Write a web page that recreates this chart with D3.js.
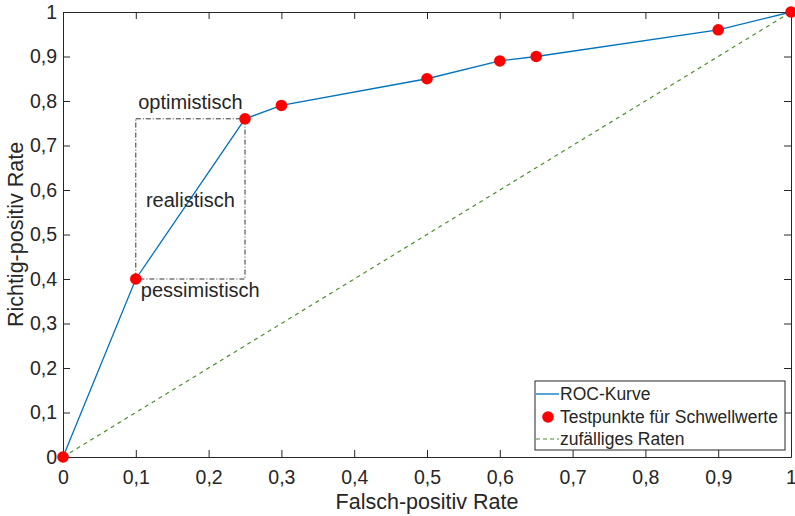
<!DOCTYPE html>
<meta charset="utf-8">
<style>
    body { margin: 0; background: #fff; }
    text { font-family: "Liberation Sans", Arial, sans-serif; fill: #262626; }
    .axis text { font-size: 19.5px; }
    .label { font-size: 21.5px; }
</style>
<body>
<div id="chart"></div>
<script src="https://cdn.jsdelivr.net/npm/d3@7"></script>
<script>
    // ROC points
    var fpr = [0, 0.1, 0.25, 0.3, 0.5, 0.6, 0.65, 0.9, 1];
    var tpr = [0, 0.4, 0.76, 0.79, 0.85, 0.89, 0.9, 0.96, 1];
    var randomLine = [0, 1];
    var tickValues = [0, 0.1, 0.2, 0.3, 0.4, 0.5, 0.6, 0.7, 0.8, 0.9, 1];
    var boxX = [0.1, 0.25], boxY = [0.4, 0.76];
    var legendLabels = ["ROC-Kurve", "Testpunkte für Schwellwerte", "zufälliges Raten"];

    var W = 795, H = 516;
    var margin = { top: 12, right: 4, bottom: 59, left: 63 };
    var width = W - margin.left - margin.right,
        height = H - margin.top - margin.bottom;

    var svg = d3.select("#chart").append("svg")
        .attr("width", W).attr("height", H)
        .append("g")
        .attr("transform", "translate(" + margin.left + "," + margin.top + ")");

    var x = d3.scaleLinear().domain([0, 1]).range([0, width]);
    var y = d3.scaleLinear().domain([0, 1]).range([height, 0]);
    var fmt = function (d) { return String(d).replace(".", ","); };

    // axes with ticks pointing inward (MATLAB box style)
    svg.append("g").attr("class", "axis")
        .attr("transform", "translate(0," + height + ")")
        .call(d3.axisBottom(x).tickValues(tickValues).tickFormat(fmt).tickSizeInner(-7).tickSizeOuter(0).tickPadding(13));
    svg.append("g").attr("class", "axis")
        .call(d3.axisLeft(y).tickValues(tickValues).tickFormat(fmt).tickSizeInner(-7).tickSizeOuter(0).tickPadding(6));
    svg.append("g").attr("class", "axis")
        .call(d3.axisTop(x).tickValues(tickValues).tickFormat("").tickSizeInner(-7).tickSizeOuter(0));
    svg.append("g").attr("class", "axis")
        .attr("transform", "translate(" + width + ",0)")
        .call(d3.axisRight(y).tickValues(tickValues).tickFormat("").tickSizeInner(-7).tickSizeOuter(0));
    svg.selectAll(".axis path, .axis line").attr("stroke", "#262626");
    svg.selectAll(".axis text").attr("fill", "#262626");

    // dashed random-guess diagonal
    svg.append("line")
        .attr("x1", x(randomLine[0])).attr("y1", y(randomLine[0]))
        .attr("x2", x(randomLine[1])).attr("y2", y(randomLine[1]))
        .attr("stroke", "#4f8c2e").attr("stroke-width", 1.2)
        .attr("stroke-dasharray", "4,4");

    // dash-dot box
    svg.append("rect")
        .attr("x", x(boxX[0])).attr("y", y(boxY[1]))
        .attr("width", x(boxX[1]) - x(boxX[0]))
        .attr("height", y(boxY[0]) - y(boxY[1]))
        .attr("fill", "none").attr("stroke", "#333")
        .attr("stroke-width", 1).attr("stroke-dasharray", "5,2,1,2");

    var pts = fpr.map(function (d, i) { return [d, tpr[i]]; });
    svg.append("path").datum(pts)
        .attr("fill", "none").attr("stroke", "#0072BD").attr("stroke-width", 1.3)
        .attr("d", d3.line().x(function (d) { return x(d[0]); }).y(function (d) { return y(d[1]); }));

    svg.selectAll(".pt").data(pts).enter().append("circle")
        .attr("class", "pt")
        .attr("cx", function (d) { return x(d[0]); })
        .attr("cy", function (d) { return y(d[1]); })
        .attr("r", 5.8).attr("fill", "#ff0000");

    // annotations
    var annSize = "20px";
    svg.append("text").attr("font-size", annSize)
        .attr("x", x(0.175)).attr("y", y(boxY[1]) - 10)
        .attr("text-anchor", "middle").text("optimistisch");
    svg.append("text").attr("font-size", annSize)
        .attr("x", x(0.175)).attr("y", y((boxY[0] + boxY[1]) / 2) + 8)
        .attr("text-anchor", "middle").text("realistisch");
    svg.append("text").attr("font-size", annSize)
        .attr("x", x(boxX[0]) + 5).attr("y", y(boxY[0]) + 18)
        .text("pessimistisch");

    // axis titles
    svg.append("text").attr("class", "label")
        .attr("x", width / 2).attr("y", height + 52)
        .attr("text-anchor", "middle").text("Falsch-positiv Rate");
    svg.append("text").attr("class", "label")
        .attr("transform", "translate(-40," + (height / 2) + ") rotate(-90)")
        .attr("text-anchor", "middle").text("Richtig-positiv Rate");

    // legend
    var lg = svg.append("g").attr("transform", "translate(" + (535 - margin.left) + "," + (381 - margin.top) + ")");
    lg.append("rect").attr("width", 250).attr("height", 69)
        .attr("fill", "#fff").attr("stroke", "#262626").attr("stroke-width", 1);
    var rows = [13, 36, 58];
    lg.append("line").attr("x1", 1).attr("x2", 24).attr("y1", rows[0]).attr("y2", rows[0])
        .attr("stroke", "#0072BD").attr("stroke-width", 1.3);
    lg.append("circle").attr("cx", 13).attr("cy", rows[1]).attr("r", 5.8).attr("fill", "#ff0000");
    lg.append("line").attr("x1", 1).attr("x2", 24).attr("y1", rows[2]).attr("y2", rows[2])
        .attr("stroke", "#4f8c2e").attr("stroke-width", 1.2).attr("stroke-dasharray", "4,3");
    lg.selectAll(".lt").data(legendLabels).enter().append("text")
        .attr("class", "lt").attr("font-size", "17.5px")
        .attr("x", 25).attr("y", function (d, i) { return rows[i] + 6; })
        .text(function (d) { return d; });
</script>
</body>
